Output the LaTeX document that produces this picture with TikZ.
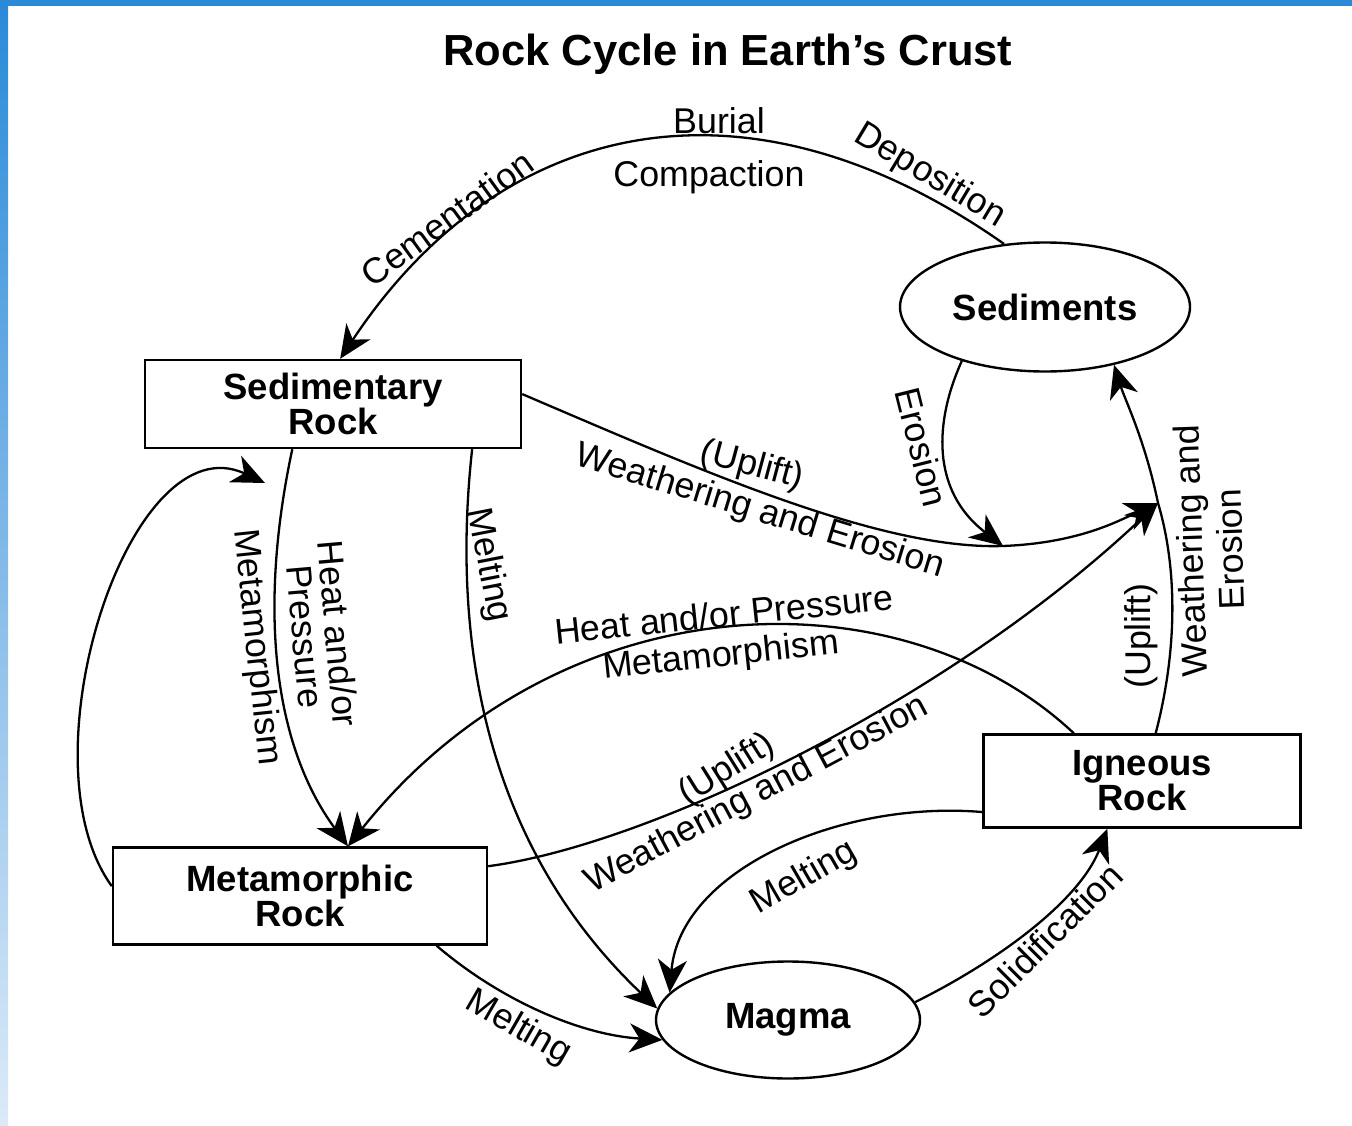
\documentclass[tikz,border=0pt]{standalone}
\usepackage{fontspec}
\setmainfont{Liberation Sans}
\usetikzlibrary{arrows.meta, shapes.geometric}
\definecolor{frameblue}{RGB}{42,138,216}
\definecolor{framelight}{RGB}{220,234,248}

\begin{document}
\begin{tikzpicture}[x=1pt, y=-1pt,
    rockbox/.style={draw, line width=2.4pt, fill=white, align=center, inner sep=0pt, font=\fontsize{36.5}{35}\selectfont\bfseries},
    rockoval/.style={ellipse, draw, line width=2.4pt, fill=white, inner sep=0pt, font=\fontsize{36.5}{35}\selectfont\bfseries},
    steplabel/.style={inner sep=0pt, align=center, font=\fontsize{35.8}{33}\selectfont},
    cycleline/.style={line width=2.3pt, -{Stealth[length=33pt, width=29pt, inset=10pt]}}]

  % frame
  \useasboundingbox (0,0) rectangle (1352,1126);
  \fill[white] (0,0) rectangle (1352,1126);
  \fill[frameblue] (0,0) rectangle (1352,6);
  \shade[top color=frameblue, bottom color=framelight] (0,0) rectangle (8,1126);

  \node[font=\fontsize{43.5}{44}\selectfont\bfseries] (title) at (728,54) {Rock Cycle in Earth's Crust};

  % rocks
  \node[rockbox, minimum width=376pt, minimum height=88pt] (sedrock) at (333,404) {Sedimentary\\Rock};
  \node[rockoval, minimum width=290pt, minimum height=129pt] (sediments) at (1045,307) {Sediments};
  \node[rockbox, minimum width=374pt, minimum height=97pt] (metarock) at (300,896) {Metamorphic\\Rock};
  \node[rockbox, minimum width=317pt, minimum height=93pt] (igneous) at (1142,781) {Igneous\\Rock};
  \node[rockoval, minimum width=264pt, minimum height=117pt] (magma) at (788,1020) {Magma};

  \coordinate (join) at (1158,503);
  \coordinate (dip) at (1003,546);
  \coordinate (loopend) at (265,483);

  % arrows
  \draw[cycleline] (sediments.123) .. controls (745,62) and (500,118) .. (sedrock.81);
  \draw[cycleline] (sedrock.3) .. controls (700,470) and (880,550) .. (dip) .. controls (1080,543) and (1120,520) .. (join);
  \draw[cycleline] (sediments.-147) .. controls (935,420) and (930,490) .. (dip);
  \draw[cycleline] (igneous.74) .. controls (1180,640) and (1175,560) .. (join) .. controls (1145,440) and (1125,400) .. (sediments.-40);
  \draw[cycleline] (igneous.145) .. controls (900,570) and (560,580) .. (metarock.46);
  \draw[cycleline] (metarock.9) .. controls (650,845) and (950,700) .. (join);
  \draw[cycleline] (igneous.191) .. controls (840,800) and (680,870) .. (magma.167);
  \draw[cycleline] (magma.8) .. controls (1000,960) and (1080,900) .. (igneous.-126);
  \draw[cycleline] (sedrock.-18) .. controls (450,650) and (490,850) .. (magma.175);
  \draw[cycleline] (metarock.-20) .. controls (500,1000) and (580,1035) .. (magma.189);
  \draw[cycleline] (sedrock.-132) .. controls (260,600) and (270,740) .. (metarock.46);
  \draw[cycleline] (metarock.177) .. controls (20,760) and (130,420) .. (loopend);

  % labels
  \node[steplabel] (burial) at (719,121) {Burial};
  \node[steplabel] (compaction) at (709,177) {Compaction};
  \node[steplabel, rotate=36] (cementation) at (447,218) {Cementation};
  \node[steplabel, rotate=-31] (deposition) at (930,176) {Deposition};
  \node[steplabel, rotate=-76] (erosion) at (922,447) {Erosion};
  \node[steplabel, rotate=-15] (upliftsed) at (752,466) {(Uplift)};
  \node[steplabel, rotate=-17] (weathersed) at (760,512) {Weathering and Erosion};
  \node[steplabel, rotate=6] (heatmid) at (724,614) {Heat and/or Pressure};
  \node[steplabel, rotate=6] (metamid) at (721,657) {Metamorphism};
  \node[steplabel, rotate=32] (upliftmeta) at (727,770) {(Uplift)};
  \node[steplabel, rotate=28] (weathermeta) at (757,795) {Weathering and Erosion};
  \node[steplabel, rotate=30] (meltign) at (804,878) {Melting};
  \node[steplabel, rotate=45] (solid) at (1045,940) {Solidification};
  \node[steplabel, rotate=-79] (meltsed) at (488,565) {Melting};
  \node[steplabel, rotate=-30] (meltmeta) at (518,1028) {Melting};
  \node[steplabel, rotate=-84] (metaleft) at (256,647) {Metamorphism};
  \node[steplabel, rotate=-85] (heatleft) at (322,635) {Heat and/or\\Pressure};
  \node[steplabel, rotate=90] (upliftign) at (1141,636) {(Uplift)};
  \node[steplabel, rotate=92, font=\fontsize{35.8}{40}\selectfont] (weatherign) at (1210,550) {Weathering and\\Erosion};
\end{tikzpicture}
\end{document}
